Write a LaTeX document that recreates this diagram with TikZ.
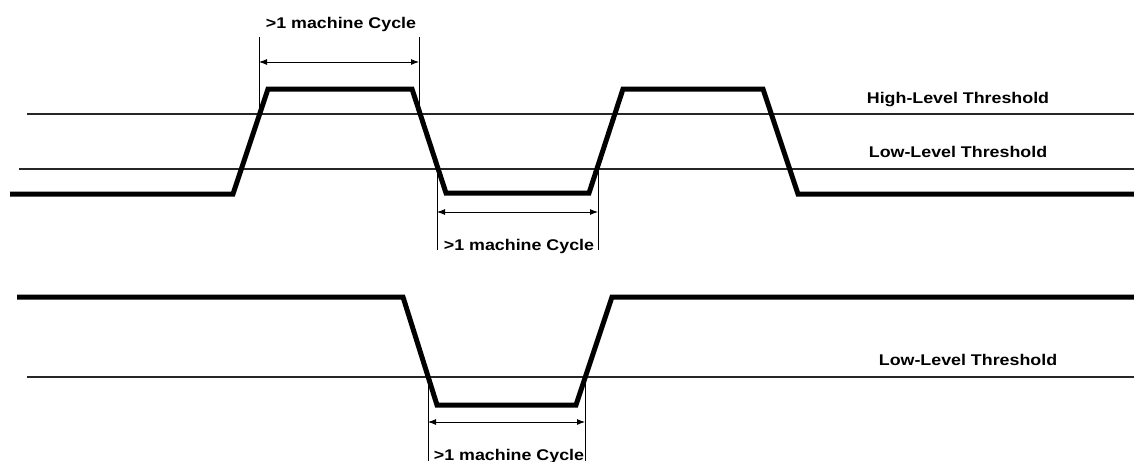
\documentclass[tikz,border=0pt]{standalone}
\usepackage{fontspec}
\newfontfamily\lblfont[FakeStretch=1.15]{Liberation Sans Bold}
\usetikzlibrary{arrows.meta}
\begin{document}
\begin{tikzpicture}[x=1pt,y=-1pt,
  wave/.style={line width=5pt,line join=miter,line cap=butt},
  thresh/.style={line width=1.3pt,draw=black!85},
  ext/.style={line width=0.9pt},
  dim/.style={line width=0.9pt,{Latex[length=8pt,width=6pt]}-{Latex[length=8pt,width=6pt]}},
  lbl/.style={inner sep=0pt,anchor=base,font=\lblfont\fontsize{15.5}{18}\selectfont}]
\useasboundingbox (0,0) rectangle (1134,461);
% thresholds
\draw[thresh] (27,114) -- (1134,114);
\draw[thresh] (19,169) -- (1134,169);
\draw[thresh] (27,377) -- (1134,377);
% top waveform
\draw[wave] (10,194) -- (233,194) -- (268,89) -- (412,89) -- (446,193) -- (589,193) -- (623,89) -- (763,89) -- (798,194) -- (1134,194);
% bottom waveform
\draw[wave] (17,297) -- (403,297) -- (437,405) -- (576,405) -- (612,297) -- (1134,297);
% extension lines
\coordinate (t1a) at (259,37); \coordinate (t1b) at (259,114);
\coordinate (t2a) at (419,37); \coordinate (t2b) at (419,114);
\coordinate (m1a) at (437,169); \coordinate (m1b) at (437,250);
\coordinate (m2a) at (598,169); \coordinate (m2b) at (598,250);
\coordinate (b1a) at (428,377); \coordinate (b1b) at (428,461);
\coordinate (b2a) at (585,377); \coordinate (b2b) at (585,461);
\draw[ext] (t1a) -- (t1b); \draw[ext] (t2a) -- (t2b);
\draw[ext] (m1a) -- (m1b); \draw[ext] (m2a) -- (m2b);
\draw[ext] (b1a) -- (b1b); \draw[ext] (b2a) -- (b2b);
% dimension arrows
\coordinate (ta) at (259,62); \coordinate (tb) at (419,62);
\coordinate (ma) at (437,212); \coordinate (mb) at (598,212);
\coordinate (ba) at (428,422); \coordinate (bb) at (585,422);
\draw[dim] (ta) -- (tb);
\draw[dim] (ma) -- (mb);
\draw[dim] (ba) -- (bb);
% labels
\node[lbl] (lt) at (341,28) {>1 machine Cycle};
\node[lbl] (lm) at (519,250) {>1 machine Cycle};
\node[lbl] (lb) at (509,460) {>1 machine Cycle};
\node[lbl] (hl) at (958,103) {High-Level Threshold};
\node[lbl] (ll) at (958,157) {Low-Level Threshold};
\node[lbl] (ll2) at (968,365) {Low-Level Threshold};
\end{tikzpicture}
\end{document}
